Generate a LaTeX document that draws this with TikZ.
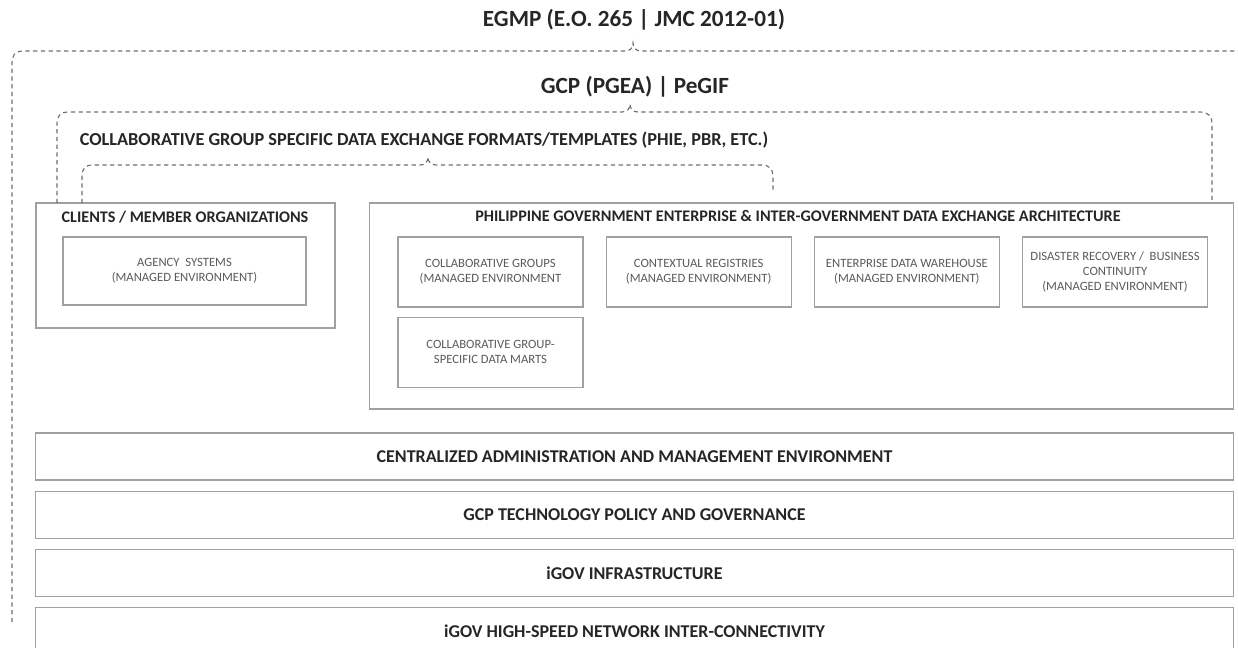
\documentclass[tikz,border=0pt]{standalone}
\usepackage{fontspec}
\setmainfont{Carlito}
\usetikzlibrary{positioning}
\definecolor{linegray}{HTML}{A0A0A0}
\definecolor{dashgray}{HTML}{6E6E6E}
\definecolor{textgray}{HTML}{5A5A5A}

\begin{document}
\begin{tikzpicture}[x=0.025cm, y=-0.025cm,
layer/.style={rectangle, draw=linegray, thick, minimum width=29.925cm, minimum height=1.175cm, font=\bfseries\fontsize{12.8}{15}\selectfont, text=black!85},
group/.style={rectangle, draw=linegray, thick},
system/.style={rectangle, draw=linegray, thick, minimum width=4.625cm, minimum height=1.75cm, align=center, font=\fontsize{9}{10.6}\selectfont, text=textgray},
heading/.style={font=\bfseries\fontsize{16.5}{19}\selectfont, text=black!85},
boxtitle/.style={font=\bfseries\fontsize{11.5}{13}\selectfont, text=black!85},
brace/.style={draw=dashgray, thick, dash pattern=on 3pt off 2.5pt},
node distance=0.55cm
]
\useasboundingbox (0,0) rectangle (1238,647);

%Titles
\node[heading] (EGMP) at (634,20) {EGMP (E.O. 265 | JMC 2012-01)};
\node[heading] (GCP)  at (635,87) {GCP (PGEA) | PeGIF};
\node[font=\bfseries\fontsize{13}{15}\selectfont, text=black!85] (CGSDE) at (424,140)
      {COLLABORATIVE GROUP SPECIFIC DATA EXCHANGE FORMATS/TEMPLATES (PHIE, PBR, ETC.)};

%Groups
\node[group, minimum width=7.475cm, minimum height=3.125cm] (Clients) at (185.5,265.5) {};
\node[boxtitle] (ClientsT) at (185,217) {CLIENTS / MEMBER ORGANIZATIONS};
\node[system, minimum width=6.075cm, minimum height=1.7cm] (Agency) at (184.5,271)
      {AGENCY\ \ SYSTEMS\\(MANAGED ENVIRONMENT)};

\node[group, minimum width=21.575cm, minimum height=5.15cm] (PGEDEA) at (801.5,306) {};
\node[boxtitle] (PGEDEAT) at (798,216) {PHILIPPINE GOVERNMENT ENTERPRISE \& INTER-GOVERNMENT DATA EXCHANGE ARCHITECTURE};

\node[system]      (CG)        at (490.5,272)      {COLLABORATIVE GROUPS\\(MANAGED ENVIRONMENT};
\node[system]      (CR)        [right=of CG]       {CONTEXTUAL REGISTRIES\\(MANAGED ENVIRONMENT)};
\node[system]      (EDW)       [right=of CR]       {ENTERPRISE DATA WAREHOUSE\\(MANAGED ENVIRONMENT)};
\node[system]      (DRBC)      [right=of EDW]      {DISASTER RECOVERY /\ \ BUSINESS\\CONTINUITY\\(MANAGED ENVIRONMENT)};
\node[system]      (Marts)     [below=0.225cm of CG] {COLLABORATIVE GROUP-\\SPECIFIC DATA MARTS};

%Layers
\node[layer]       (CAME)      at (634.5,456.5)   {CENTRALIZED ADMINISTRATION AND MANAGEMENT ENVIRONMENT};
\node[layer]       (Policy)    [below=0.25cm of CAME]   {GCP TECHNOLOGY POLICY AND GOVERNANCE};
\node[layer]       (Infra)     [below=0.25cm of Policy] {iGOV INFRASTRUCTURE};
\node[layer]       (Network)   [below=0.25cm of Infra]  {iGOV HIGH-SPEED NETWORK INTER-CONNECTIVITY};

%Braces
\draw[brace] (12,622) -- (12,63) .. controls (12,55) and (15,51) .. (24,51) -- (625,51)
      .. controls (630,51) and (633,48) .. (633,43) .. controls (633,48) and (636,51) .. (641,51) -- (1245,51);
\draw[brace] (57,203) -- (57,124) .. controls (57,116) and (60,112) .. (69,112) -- (622,112)
      .. controls (627,112) and (630,109) .. (630,104) .. controls (630,109) and (633,112) .. (638,112)
      -- (1200,112) .. controls (1208,112) and (1212,116) .. (1212,124) -- (1212,200);
\draw[brace] (82,203) -- (82,176) .. controls (82,169) and (85,165) .. (93,165) -- (420,165)
      .. controls (425,165) and (428,162) .. (428,157) .. controls (428,162) and (431,165) .. (436,165)
      -- (762,165) .. controls (769,165) and (773,169) .. (773,176) -- (773,192);
\end{tikzpicture}
\end{document}
